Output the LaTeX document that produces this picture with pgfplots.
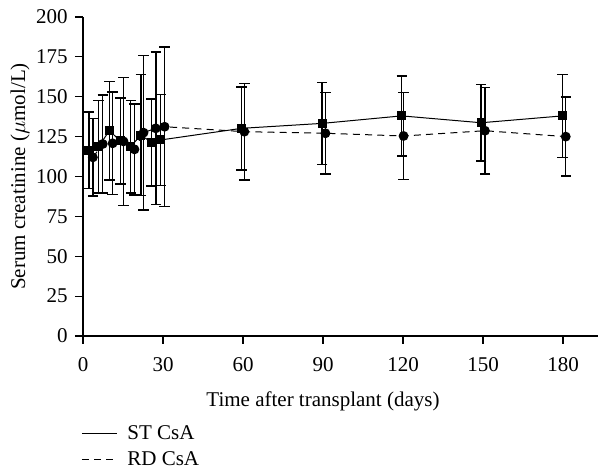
\documentclass[border=0pt]{standalone}
\usepackage{fontspec}
\setmainfont{Liberation Serif}
\usepackage{pgfplots}
\pgfplotsset{compat=1.18}

\begin{document}
\fontsize{10.5pt}{12pt}\selectfont
\begin{tikzpicture}
\begin{axis}[
  scale only axis,
  width=257.5pt, height=159.5pt,
  xmin=0, xmax=193.1,
  ymin=0, ymax=200,
  axis x line*=bottom,
  axis y line*=left,
  tick align=outside,
  major tick length=4pt,
  xtick={0,30,...,180},
  ytick={0,25,...,200},
  /pgf/number format/assume math mode=true,
  tick label style={font=\fontsize{10.5pt}{12pt}\selectfont},
  xticklabel style={yshift=-3pt},
  label style={font=\fontsize{10.5pt}{12pt}\selectfont},
  xlabel={Time after transplant (days)},
  ylabel={Serum creatinine ($\mu$mol/L)},
  x label style={at={(ticklabel cs:0.466)}, yshift=-3pt},
  y label style={yshift=-4pt},
  legend style={draw=none, fill=none, at={(axis description cs:0,0)},
    anchor=north west, xshift=-4pt, yshift=-40.5pt,
    font=\fontsize{10.5pt}{12pt}\selectfont,
    row sep=0.5pt,
    /tikz/every odd column/.append style={column sep=3pt}},
  legend cell align=left,
  legend image code/.code={\draw[#1, mark=none] (0pt,0pt) -- (17.5pt,0pt);},
  axis line style={line width=0.6pt},
  every tick/.style={line width=0.6pt, black},
  error bars/error bar style={line width=0.75pt},
  error bars/error mark options={rotate=90, mark size=2.6pt, line width=0.75pt},
]
\addplot[black, line width=0.5pt, mark=square*, mark size=2pt,
  error bars/.cd, y dir=both, y explicit]
coordinates {
  (2.2, 116.5) +- (0, 24)
  (5.8, 118.7) +- (0, 29)
  (9.9, 128.7) +- (0, 31)
  (14.0, 122.3) +- (0, 27)
  (17.9, 118.7) +- (0, 29)
  (21.7, 126.0) +- (0, 37.8)
  (25.7, 121.4) +- (0, 27.3)
  (29.1, 122.9) +- (0, 28.6)
  (59.5, 130.2) +- (0, 26)
  (89.7, 133.3) +- (0, 25.7)
  (119.5, 138.0) +- (0, 25)
  (149.3, 133.7) +- (0, 24)
  (179.8, 138.0) +- (0, 26)
};
\addlegendentry{ST CsA}
\addplot[black, line width=0.5pt, dash pattern=on 3.5pt off 2.6pt,
  mark=*, mark size=2.2pt, mark options={solid},
  error bars/.cd, y dir=both, y explicit,
  error bar style={solid, line width=0.75pt}]
coordinates {
  (3.7, 112.0) +- (0, 24.3)
  (7.4, 120.4) +- (0, 30.6)
  (11.1, 120.8) +- (0, 32.1)
  (15.2, 122.0) +- (0, 40.2)
  (19.3, 117.0) +- (0, 28.5)
  (22.7, 127.5) +- (0, 48.5)
  (27.3, 130.2) +- (0, 47.7)
  (30.6, 131.2) +- (0, 50)
  (60.5, 128.1) +- (0, 30.3)
  (90.9, 127.1) +- (0, 25.5)
  (120.2, 125.4) +- (0, 27.4)
  (150.7, 128.7) +- (0, 27.1)
  (181.0, 125.0) +- (0, 24.7)
};
\addlegendentry{RD CsA}
\end{axis}
\pgfresetboundingbox
\path (current axis.origin) ++(-41.5pt,-66.5pt) rectangle ++(300pt,234.5pt);
\end{tikzpicture}
\end{document}
